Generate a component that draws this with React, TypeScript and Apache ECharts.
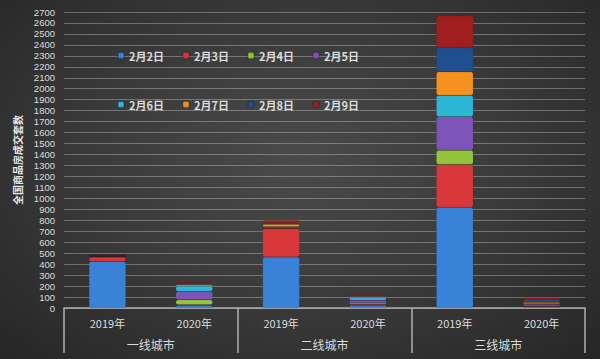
import React, { useEffect, useRef } from "react";
import * as echarts from "echarts";

const years = ["2019年", "2020年", "2019年", "2020年", "2019年", "2020年"];
const cityTiers = ["一线城市", "二线城市", "三线城市"];
const seriesNames = ["2月2日", "2月3日", "2月4日", "2月5日", "2月6日", "2月7日", "2月8日", "2月9日"];
const seriesColors = ["#3a82d8", "#d8383a", "#94c43a", "#7d55b8", "#2db6d6", "#f5921f", "#1f4f8e", "#a01e1e"];

// values per category: [一线2019, 一线2020, 二线2019, 二线2020, 三线2019, 三线2020]
const feb2 = [425, 20, 465, 20, 920, 10];
const feb3 = [40, 10, 260, 15, 390, 5];
const feb4 = [2, 45, 5, 10, 130, 10];
const feb5 = [2, 75, 5, 25, 305, 10];
const feb6 = [5, 50, 5, 25, 195, 10];
const feb7 = [5, 15, 25, 10, 215, 10];
const feb8 = [2, 10, 10, 10, 220, 25];
const feb9 = [8, 10, 25, 10, 290, 15];
const seriesValues = [feb2, feb3, feb4, feb5, feb6, feb7, feb8, feb9];

const yTicks = { min: 0, max: 2700, interval: 100 };

export default function App() {
  const ref = useRef<HTMLDivElement>(null);
  useEffect(() => {
    document.body.style.margin = "0";
    const chart = echarts.init(ref.current!, null, { renderer: "svg" });
    const textColor = "#dcdcdc";
    const legendText = { color: textColor, fontSize: 11, fontWeight: "bold", fontFamily: "Noto Sans CJK SC" };
    chart.setOption({
      animation: false,
      backgroundColor: "transparent",
      grid: { left: 64, right: 15, top: 12, bottom: 51 },
      legend: [
        {
          data: seriesNames.slice(0, 4),
          left: 112,
          top: 45,
          itemWidth: 6,
          itemHeight: 6,
          itemGap: 18,
          icon: "roundRect",
          textStyle: legendText,
        },
        {
          data: seriesNames.slice(4),
          left: 112,
          top: 94,
          itemWidth: 6,
          itemHeight: 6,
          itemGap: 18,
          icon: "roundRect",
          textStyle: legendText,
        },
      ],
      xAxis: [
        {
          type: "category",
          data: years,
          axisLine: { show: true, lineStyle: { color: "#b0b0b0", width: 1.5 } },
          axisTick: { show: false },
          axisLabel: { color: textColor, fontSize: 11, margin: 9, fontFamily: "Noto Sans CJK SC" },
        },
        {
          type: "category",
          data: cityTiers,
          position: "bottom",
          axisLine: { show: false },
          axisTick: { show: true, length: 45, lineStyle: { color: "#b0b0b0", width: 1.5 } },
          axisLabel: { color: textColor, fontSize: 12, margin: 30, fontFamily: "Noto Sans CJK SC" },
        },
      ],
      yAxis: {
        type: "value",
        min: yTicks.min,
        max: yTicks.max,
        interval: yTicks.interval,
        name: "全国商品房成交套数",
        nameLocation: "middle",
        nameGap: 34,
        nameRotate: 90,
        nameTextStyle: { color: "#e8e8e8", fontSize: 10, fontWeight: "bold", fontFamily: "Noto Sans CJK SC" },
        axisLine: { show: false },
        axisTick: { show: false },
        axisLabel: {
          color: textColor,
          fontSize: 9.5,
          lineHeight: 10,
          margin: 9,
          fontFamily: "Liberation Sans",
          formatter: (v: number) => String(v),
        },
        splitLine: { lineStyle: { color: "rgba(210,210,210,0.38)", width: 1 } },
      },
      series: seriesNames.map((name, i) => ({
        name,
        type: "bar",
        stack: "total",
        xAxisIndex: 0,
        barWidth: 37,
        data: seriesValues[i],
        itemStyle: {
          color: seriesColors[i],
          borderColor: "rgba(0,0,0,0.15)",
          borderWidth: 0.5,
          borderRadius: 2,
        },
      })),
    });
    return () => chart.dispose();
  }, []);
  return (
    <div
      ref={ref}
      style={{
        width: 600,
        height: 359,
        background: "radial-gradient(ellipse at 50% 45%, #4a4a4a 0%, #3c3c3c 45%, #262626 100%)",
      }}
    />
  );
}
